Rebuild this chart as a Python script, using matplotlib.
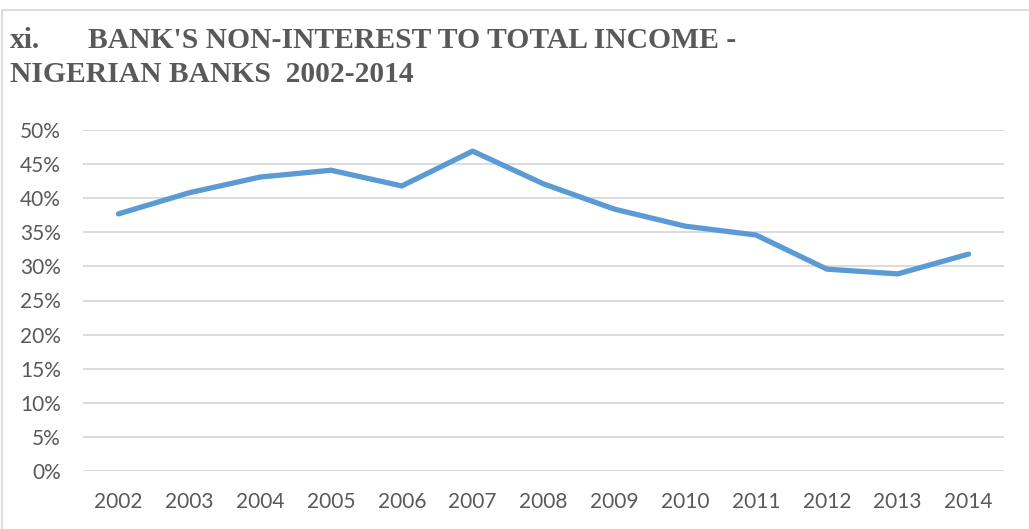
import matplotlib
matplotlib.use("Agg")
import matplotlib.pyplot as plt
from matplotlib.lines import Line2D
from matplotlib.ticker import FuncFormatter, MultipleLocator

years = ["2002", "2003", "2004", "2005", "2006", "2007", "2008",
         "2009", "2010", "2011", "2012", "2013", "2014"]
non_interest_share = [0.377, 0.408, 0.431, 0.441, 0.418, 0.469, 0.421,
                      0.384, 0.359, 0.346, 0.296, 0.289, 0.318]

GREY = "#595959"
GRID = "#D9D9D9"
BLUE = "#5B9BD5"

W, H = 1029, 529
fig = plt.figure(figsize=(W / 100, H / 100), dpi=100)

# plot area in pixel terms: x 83..1004, y 130..471
ax = fig.add_axes([83 / W, 1 - 471 / H, (1004 - 83) / W, (471 - 130) / H])
x = range(len(years))
ax.plot(x, non_interest_share, color=BLUE, lw=3.8, solid_capstyle="round",
        solid_joinstyle="round", zorder=3)

ax.set_xlim(-0.5, len(years) - 0.5)
ax.set_ylim(0, 0.5)
ax.yaxis.set_major_locator(MultipleLocator(0.05))
ax.yaxis.set_major_formatter(FuncFormatter(lambda v, _: f"{v * 100:.0f}%"))
ax.set_xticks(list(x))
ax.set_xticklabels(years)
ax.grid(axis="y", color=GRID, lw=1.3)
ax.set_axisbelow(True)
for s in ax.spines.values():
    s.set_visible(False)
ax.tick_params(length=0, labelsize=15, colors=GREY)
ax.tick_params(axis="y", pad=16)
ax.tick_params(axis="x", pad=15)
for lbl in ax.get_xticklabels() + ax.get_yticklabels():
    lbl.set_fontfamily("Lato")

# chart-area frame: top and left edges only
fig.add_artist(Line2D([2 / W, 1028 / W], [1 - 10 / H, 1 - 10 / H],
                      color=GRID, lw=1.3, transform=fig.transFigure))
fig.add_artist(Line2D([2 / W, 2 / W], [1 - 10 / H, 0],
                      color=GRID, lw=1.3, transform=fig.transFigure))

title_kw = dict(fontfamily="Liberation Serif", fontweight="bold",
                fontsize=21.3, color=GREY, va="baseline")
fig.text(10 / W, 1 - 48 / H, "xi.", **title_kw)
fig.text(88 / W, 1 - 48 / H, "BANK'S NON-INTEREST TO TOTAL INCOME -", **title_kw)
fig.text(10 / W, 1 - 82 / H, "NIGERIAN BANKS  2002-2014", **title_kw)

fig.savefig("out.png", dpi=100)
